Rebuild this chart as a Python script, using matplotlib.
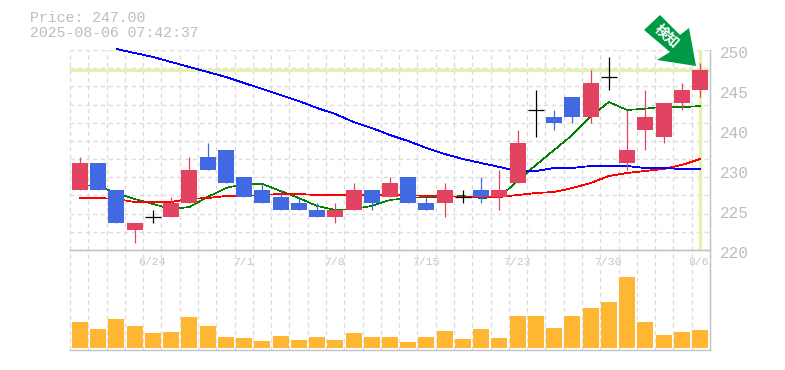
import matplotlib
matplotlib.use("Agg")
import matplotlib.pyplot as plt
from matplotlib.patches import Polygon
import numpy as np

plt.rcParams['font.family'] = ['Liberation Mono', 'Noto Sans CJK JP', 'DejaVu Sans']

opens  = [229,233,229,223,225,225,227,234,235,231,229,228,227,226,225,226,229,228,231,227,227,228,229,228,230,241,240,243,240,246,233,238,237,242,244]
closes = [233,229,224,224,225,227,232,232,230,228,227,226,226,225,226,229,227,230,227,226,229,228,228,229,236,241,239,240,245,246,235,240,242,244,247]
highs  = [234,233,229,224,226,228,234,236,235,231,230,229,228,227,227,230,229,231,231,228,230,229,231,232,238,244,241,243,247,249,241,244,242,245,248]
lows   = [229,229,224,221,224,225,227,232,230,228,227,226,226,225,224,226,226,228,227,226,225,227,227,226,230,237,238,239,239,244,232,235,236,241,243]
ma_short = [229.75,229.6,228.55,227.65,226.9,226.15,226.45,227.95,229.3,229.9,229.9,228.85,227.8,226.6,226.0,226.15,226.6,227.5,227.8,227.95,227.95,228.1,227.8,227.95,230.35,232.75,235.0,237.25,240.0,242.2,241.0,241.2,241.5,241.4,241.6]
ma_mid = [227.8,227.8,227.65,227.2,227.2,227.2,227.65,227.8,228.1,228.1,228.25,228.4,228.4,228.25,228.25,228.25,228.25,228.25,228.25,228.1,228.1,227.95,227.95,227.95,228.25,228.55,228.7,229.3,230.05,231.1,231.55,231.85,232.15,232.75,233.65]
ma_long = [np.nan,np.nan,250.15,249.55,248.95,248.2,247.45,246.7,245.95,245.05,244.15,243.25,242.35,241.3,240.4,239.2,238.3,237.25,236.35,235.3,234.4,233.65,233.05,232.45,231.85,231.85,232.3,232.3,232.6,232.6,232.6,232.3,232.3,232.15,232.15]
volumes = [26,19,29,22,15,16,31,22,11,10,7,12,8,11,8,15,11,11,6,11,17,9,19,10,32,32,20,32,40,46,71,26,13,16,18]
price_labels = ['250','245','240','230','225','220']
price_label_vals = [250,244,238,232,226,220]
date_labels = ['6/24','7/1','7/8','7/15','7/23','7/30','8/6']
date_label_idx = [4,9,14,19,24,29,34]
last_price = 247
title_lines = ['Price: 247.00','2025-08-06 07:42:37']
badge_text = '検知'

W,H = 785,370
fig = plt.figure(figsize=(W/100,H/100),dpi=100)
def rect(l,t,r,b): return [l/W,1-b/H,(r-l)/W,(b-t)/H]
ax = fig.add_axes(rect(70,50,710,250))
axv = fig.add_axes(rect(70,250,710,350))
n = len(opens)
x = np.arange(n)
GRID='#dcdcdc'; FRAME='#c4c4c4'
RED='#e24360'; BLUE='#4169e1'; ORANGE='#ffb733'; HI='#e2f2a8'
XL,XR = -0.548,n-1+0.548

for a in (ax,axv):
    a.set_xlim(XL,XR)
    a.set_xticks([]); a.set_yticks([])
    a.set_facecolor('none')
    for s in a.spines.values(): s.set_visible(False)
    for gx in np.linspace(XL,XR,n+1):
        a.axvline(gx,color=GRID,lw=1,ls=(0,(3,2.5)),zorder=0.5,clip_on=False)
ax.set_ylim(220,250)
axv.set_ylim(-2,98)
for v in np.linspace(220,250,12):
    ax.axhline(v,color=GRID,lw=1,ls=(0,(3,2.5)),zorder=0.5)

for a,names in ((ax,('right','bottom')),(axv,('right','bottom','top'))):
    for s in names:
        a.spines[s].set_visible(True); a.spines[s].set_color(FRAME); a.spines[s].set_linewidth(1.0)

ax.axhline(last_price,color=HI,lw=2.3,zorder=1)
ax.axvline(n-1,ymin=0.01,color=HI,lw=2.3,zorder=1)

ax.plot(x,ma_short,color='#008000',lw=0.45,zorder=2,clip_on=False,antialiased=False)
ax.plot(x,ma_mid,color='#ff0000',lw=0.55,zorder=2,clip_on=False,antialiased=False)
ax.plot(x,ma_long,color='#0000ff',lw=0.55,zorder=2,clip_on=False,antialiased=False)

W_BODY=0.877
for i in range(n):
    o,c,h,l = opens[i],closes[i],highs[i],lows[i]
    if o==c:
        ax.plot([i,i],[l,h],color='black',lw=0.9,zorder=3,solid_capstyle='butt',snap=True)
        ax.plot([i-W_BODY/2,i+W_BODY/2],[o,o],color='black',lw=0.9,zorder=3,solid_capstyle='butt',snap=True)
        continue
    col = RED if c>o else BLUE
    ax.plot([i,i],[l,h],color=col,lw=0.9,zorder=3,solid_capstyle='butt',snap=True)
    ax.bar(i,abs(c-o),bottom=min(o,c),width=W_BODY,color=col,zorder=4,linewidth=0)

axv.bar(x,volumes,width=W_BODY,color=ORANGE,zorder=3,linewidth=0)

def px(xp,yp): return xp/W,1-yp/H
for s,yp in zip(title_lines,(18,33)):
    fig.text(*px(30,yp),s,color='#bdbdbd',fontsize=10.7,va='center',ha='left')
for s,v in zip(price_labels,price_label_vals):
    yp = 50+(250-v)/30*200+3
    fig.text(*px(720,yp),s,color='#bdbdbd',fontsize=11.5,va='center',ha='left')
for s,i in zip(date_labels,date_label_idx):
    ax.annotate(s,xy=(i,220),xytext=(-1,-12.5),textcoords='offset pixels',ha='center',va='center',
                color='#c4c4c4',fontsize=8.2,annotation_clip=False,zorder=5)

pts = [(660,15),(644,30),(670,52),(657,60),(696,66),(689,28),(680,35)]
fig.add_artist(Polygon([px(*p) for p in pts],closed=True,transform=fig.transFigure,facecolor='#009944',edgecolor='none',zorder=10))
fig.text(*px(667,36),badge_text,color='white',fontsize=10,fontweight='bold',ha='center',va='center',rotation=-42,zorder=11,
         family=['Noto Sans CJK JP','DejaVu Sans'])

fig.savefig('out.png',dpi=100)
